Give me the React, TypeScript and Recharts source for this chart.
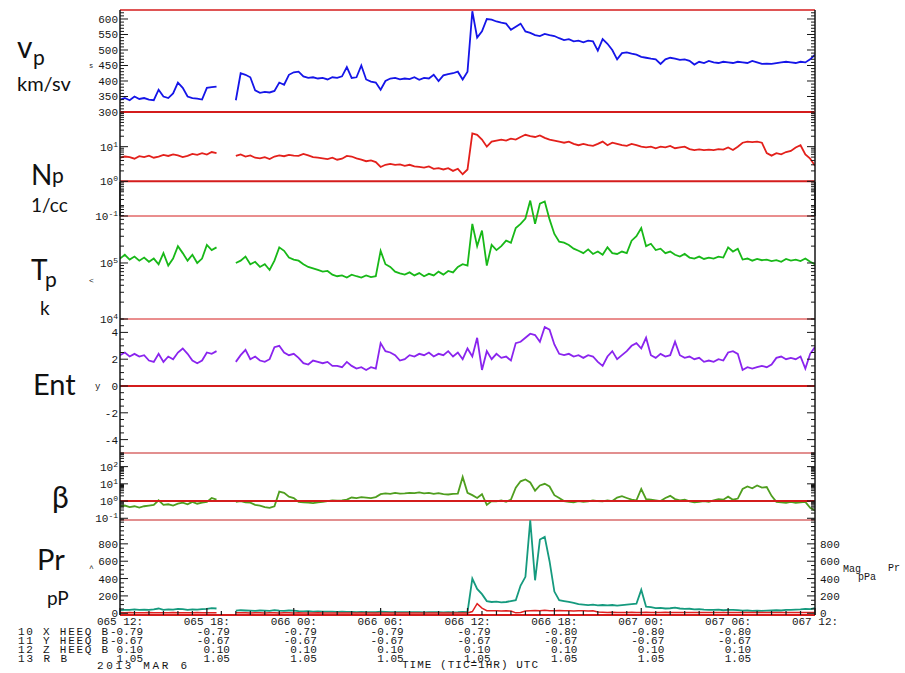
import React from 'react';
import { LineChart, Line, XAxis, YAxis, ReferenceLine } from 'recharts';

// 20-minute samples, 2013 DOY 065 12:00 UT -> DOY 067 12:00 UT (null = data gap)
const STEP_HOURS = 1 / 3;

const vpKms: (number | null)[] = [
  340, 345, 338, 350, 342, 345, 340, 338, 372, 350, 345, 360,
  395, 378, 350, 345, 343, 340, 378, 380, 382, null, null, null,
  338, 425, 420, 412, 370, 362, 365, 363, 368, 395, 388, 420,
  428, 430, 415, 410, 412, 408, 410, 405, 412, 410, 415, 445,
  410, 412, 450, 405, 398, 395, 372, 400, 408, 410, 405, 408,
  406, 412, 404, 410, 408, 420, 400, 418, 422, 425, 430, 405,
  430, 625, 540, 560, 600, 598, 592, 588, 585, 565, 575, 585,
  560, 555, 548, 545, 552, 548, 545, 538, 532, 535, 528, 530,
  525, 530, 528, 498, 535, 520, 500, 470, 490, 492, 488, 485,
  478, 475, 472, 470, 455, 470, 475, 472, 468, 470, 465, 453,
  462, 458, 465, 460, 458, 462, 460, 458, 462, 460, 458, 465,
  460, 455, 456, 455, 458, 460, 462, 460, 458, 462, 460, 470,
  485,
];

const npCc: (number | null)[] = [
  4.8, 5.2, 5.0, 4.5, 5.3, 5.0, 5.5, 4.8, 5.2, 5.8, 5.4, 6.0,
  5.6, 5.0, 5.4, 6.2, 5.8, 6.5, 5.9, 7.0, 6.5, null, null, null,
  5.4, 6.0, 5.2, 5.6, 4.8, 4.6, 5.0, 4.4, 5.2, 5.6, 5.3, 5.8,
  5.5, 5.4, 6.2, 5.6, 5.0, 4.8, 4.6, 4.4, 4.8, 4.2, 4.5, 5.4,
  5.2, 4.6, 4.2, 3.8, 4.0, 3.6, 2.6, 3.0, 3.2, 3.0, 3.1, 2.8,
  3.0, 2.7, 2.6, 2.5, 2.7, 2.3, 2.4, 2.2, 2.4, 2.0, 2.3, 1.6,
  2.2, 24, 22, 16, 10, 14, 15, 16, 15, 17, 16, 19,
  22, 20, 19, 21, 18, 16, 15, 14, 13, 14, 12, 11,
  12, 11, 10.5, 12, 14, 11, 13, 12, 11, 10.5, 12, 11,
  10, 9.5, 10, 9, 10, 9.5, 10.5, 9, 9.5, 10, 8.5, 8,
  8.3, 8, 8.2, 8, 8.5, 8.2, 9.5, 8, 10, 13, 14, 13.5,
  14, 13, 6.5, 5.5, 6.5, 6.0, 7.0, 7.5, 9.5, 11, 6, 4.5,
  2.8,
];

// proton temperature in thousands of kelvin
const tpKiloK: (number | null)[] = [
  120, 140, 115, 130, 110, 125, 105, 120, 95, 150, 90, 120,
  200, 150, 110, 140, 100, 120, 210, 170, 190, null, null, null,
  100, 110, 130, 95, 105, 85, 95, 75, 110, 190, 165, 125,
  115, 110, 95, 85, 80, 75, 70, 72, 62, 58, 60, 55,
  62, 58, 55, 60, 56, 58, 165, 95, 85, 70, 65, 62,
  68, 60, 66, 58, 64, 60, 70, 62, 72, 68, 85, 95,
  90, 500, 200, 380, 90, 210, 170, 200, 250, 230, 420, 500,
  620, 1300, 500, 1150, 1250, 600, 330, 240, 230, 210, 180, 165,
  150, 175, 145, 160, 140, 190, 150, 145, 160, 150, 250, 300,
  420, 200, 220, 170, 180, 150, 160, 140, 130, 145, 125, 120,
  130, 118, 125, 120, 130, 125, 190, 160, 180, 115, 120, 110,
  118, 112, 115, 108, 112, 105, 118, 110, 115, 108, 120, 105,
  95,
];

const entropy: (number | null)[] = [
  2.3, 2.5, 2.2, 2.4, 2.2, 2.3, 1.9, 1.8, 2.4, 1.8, 2.2, 2.0,
  2.5, 2.8, 2.4, 1.9, 1.7, 1.9, 2.5, 2.4, 2.6, null, null, null,
  1.8, 2.3, 2.7, 2.0, 2.2, 1.9, 1.8, 2.0, 2.9, 3.0, 2.5, 2.3,
  2.4, 2.1, 1.7, 1.6, 1.9, 1.8, 1.7, 1.8, 1.5, 1.5, 1.4, 1.8,
  1.5, 1.3, 1.4, 1.2, 1.4, 1.3, 3.2, 2.6, 2.5, 2.3, 1.9, 2.0,
  2.3, 2.2, 2.4, 2.3, 2.5, 2.2, 2.4, 2.3, 2.6, 2.2, 2.5, 2.0,
  2.8, 2.2, 3.6, 1.2, 2.6, 2.0, 2.4, 2.1, 2.2, 1.9, 3.2, 3.3,
  3.6, 3.9, 3.8, 3.3, 4.4, 4.2, 3.1, 2.4, 2.3, 2.4, 2.2, 2.3,
  2.1, 2.3, 2.2, 1.8, 1.5, 2.2, 2.6, 2.0, 2.3, 2.6, 3.0, 3.2,
  2.8, 3.6, 2.3, 2.1, 2.4, 2.2, 2.3, 3.3, 2.3, 2.1, 2.2, 2.0,
  2.1, 1.8, 1.9, 1.8, 2.0, 1.9, 2.5, 2.6, 2.4, 1.2, 1.4, 1.3,
  1.4, 1.5, 1.4, 1.6, 2.1, 2.2, 2.0, 2.1, 2.0, 2.2, 1.3, 2.4,
  2.9,
];

const betaP: (number | null)[] = [
  0.5, 0.55, 0.45, 0.5, 0.42, 0.5, 0.55, 0.6, 1.1, 0.6, 0.65, 0.55,
  0.7, 0.8, 0.65, 0.9, 0.7, 0.8, 0.9, 1.5, 1.2, null, null, null,
  0.9, 1.0, 0.85, 0.8, 0.6, 0.55, 0.45, 0.4, 0.5, 3.5, 3.0, 1.8,
  1.5, 0.9, 0.85, 0.8, 0.75, 0.85, 0.9, 1.0, 1.1, 1.05, 1.1, 1.2,
  1.6, 1.5, 1.7, 1.6, 1.5, 1.7, 2.5, 2.8, 2.6, 3.0, 2.7, 2.8,
  3.0, 2.9, 3.2, 2.8, 3.0, 2.6, 2.9, 2.5, 2.4, 2.6, 2.7, 25,
  3.0, 2.2, 1.5, 2.5, 0.6, 1.0, 0.95, 1.1, 0.9, 1.2, 6, 14,
  18, 12, 4, 8, 10, 7, 2.2, 1.5, 1.0, 0.9, 0.85, 1.0,
  0.9, 0.95, 1.1, 1.0, 0.95, 1.1, 1.0, 1.6, 1.9, 1.5, 1.2, 1.1,
  5, 1.3, 1.2, 1.1, 1.0, 1.5, 2.0, 1.3, 1.1, 1.2, 0.95, 0.85,
  0.9, 1.0, 0.9, 1.1, 1.3, 1.2, 1.8, 1.2, 1.4, 5, 7, 5.5,
  8, 6, 6.5, 2.0, 0.9, 0.85, 0.8, 0.9, 0.8, 0.85, 0.9, 0.4,
  0.28,
];

// total pressure (teal) and magnetic pressure (red), pPa
const prTotal: (number | null)[] = [
  35, 40, 38, 45, 40, 42, 38, 45, 55, 40, 45, 42,
  50, 48, 40, 45, 42, 48, 50, 60, 55, null, null, null,
  30, 35, 32, 30, 28, 32, 30, 28, 35, 30, 28, 32,
  30, 25, 22, 25, 20, 22, 18, 20, 18, 15, 18, 16,
  15, 12, 15, 12, 14, 12, 18, 15, 12, 14, 12, 13,
  12, 14, 12, 11, 13, 12, 12, 10, 12, 11, 12, 15,
  12, 400, 280, 220, 140, 130, 135, 125, 130, 140, 150, 320,
  420, 1070, 380, 850, 880, 600, 250, 150, 140, 130, 120, 105,
  100, 95, 100, 92, 95, 90, 95, 88, 95, 100, 105, 110,
  270, 75, 70, 60, 62, 55, 58, 65, 55, 50, 52, 45,
  48, 42, 40, 38, 42, 35, 38, 40, 35, 30, 32, 28,
  30, 28, 30, 32, 35, 32, 38, 40, 42, 45, 50, 48,
  60,
];

const prMag: (number | null)[] = [
  8, 6, 8, 5, 7, 6, 8, 6, 5, 7, 6, 8,
  6, 7, 5, 6, 8, 6, 7, 5, 6, null, null, null,
  5, 6, 5, 4, 5, 6, 4, 5, 6, 4, 5, 5,
  4, 5, 4, 3, 4, 5, 3, 4, 3, 4, 3, 4,
  3, 4, 3, 3, 4, 3, 2, 3, 2, 3, 2, 3,
  2, 3, 2, 2, 3, 2, 2, 3, 2, 2, 3, 2,
  3, 20, 110, 60, 30, 28, 30, 25, 28, 25, 5, 8,
  25, 30, 32, 30, 35, 28, 30, 32, 28, 30, 25, 28,
  30, 26, 28, 15, 12, 10, 12, 10, 8, 10, 12, 10,
  8, 12, 10, 8, 10, 12, 9, 8, 10, 9, 8, 10,
  9, 8, 10, 8, 9, 10, 8, 9, 8, 10, 9, 8,
  9, 8, 10, 9, 8, 9, 10, 8, 9, 8, 10, 9,
  8,
];

// labels under the 6-hour ticks, with spacecraft position rows
const timeLabels = ['065 12:', '065 18:', '066 00:', '066 06:', '066 12:', '066 18:', '067 00:', '067 06:', '067 12:'];
const heeqX = [-0.79, -0.79, -0.79, -0.79, -0.79, -0.8, -0.8, -0.8];
const heeqY = [-0.67, -0.67, -0.67, -0.67, -0.67, -0.67, -0.67, -0.67];
const heeqZ = [0.1, 0.1, 0.1, 0.1, 0.1, 0.1, 0.1, 0.1];
const radiusB = [1.05, 1.05, 1.05, 1.05, 1.05, 1.05, 1.05, 1.05];
const rowNames = ['10 X HEEQ B', '11 Y HEEQ B', '12 Z HEEQ B', '13 R B'];

const rows = vpKms.map((vp, i) => ({
  hr: i * STEP_HOURS,
  vp,
  np: npCc[i],
  tp: tpKiloK[i] == null ? null : (tpKiloK[i] as number) * 1000,
  ent: entropy[i],
  beta: betaP[i],
  prTotal: prTotal[i],
  prMag: prMag[i],
}));

const W = 905;
const LEFT_W = 120;
const RIGHT_W = 90;
const M0 = { top: 0, right: 0, bottom: 0, left: 0 };
const INK = '#161616';
const RED = '#d41c1c';
const RED_LIGHT = '#d86a6a';
const MONO = '"Liberation Mono", "DejaVu Sans Mono", monospace';
const SANS = 'Lato, "Open Sans", "DejaVu Sans", sans-serif';

const near = (a: number, b: number) =>
  Math.abs(a - b) <= 1e-6 * Math.max(Math.abs(a), Math.abs(b), 1e-6);

const linTicks = (lo: number, hi: number, step: number) => {
  const out: number[] = [];
  for (let v = lo; v <= hi + 1e-9; v += step) out.push(Math.round(v * 1000) / 1000);
  return out;
};

const logTicks = (lo: number, hi: number) => {
  const out: number[] = [];
  for (let d = Math.floor(Math.log10(lo)); d <= Math.ceil(Math.log10(hi)); d++) {
    for (let m = 1; m <= 9; m++) {
      const v = Number((m * Math.pow(10, d)).toPrecision(6));
      if (v >= lo * 0.999999 && v <= hi * 1.000001) out.push(v);
    }
  }
  return out;
};

const hourTicks = linTicks(0, 48, 1);

const pow10 = (v: number) => (
  <>
    10<tspan dy={-4} fontSize={8}>{Math.round(Math.log10(v))}</tspan>
  </>
);

type TickProps = { x: number; y: number; payload: { value: number } };

const leftTick = (majors: number[], fmt: (v: number) => React.ReactNode) => (p: TickProps) => {
  const major = majors.some((m) => near(m, p.payload.value));
  return (
    <g>
      <line x1={p.x} x2={p.x + (major ? 8 : 4)} y1={p.y} y2={p.y} stroke={INK} />
      {major && (
        <text x={p.x - 2} y={p.y + 4} textAnchor="end" fontFamily={MONO} fontSize={11} fill={INK}>
          {fmt(p.payload.value)}
        </text>
      )}
    </g>
  );
};

const rightTick = (majors: number[], fmt?: (v: number) => string) => (p: TickProps) => {
  const major = majors.some((m) => near(m, p.payload.value));
  return (
    <g>
      <line x1={p.x} x2={p.x - (major ? 8 : 4)} y1={p.y} y2={p.y} stroke={INK} />
      {major && fmt && (
        <text x={p.x + 5} y={p.y + 4} textAnchor="start" fontFamily={MONO} fontSize={11} fill={INK}>
          {fmt(p.payload.value)}
        </text>
      )}
    </g>
  );
};

const topTick = (p: TickProps) => {
  const major = p.payload.value % 6 === 0;
  return <line x1={p.x} x2={p.x} y1={p.y} y2={p.y + (major ? 6 : 3)} stroke={INK} strokeWidth={1.2} />;
};

const bottomTick = (p: TickProps) => {
  const h = p.payload.value;
  const major = h % 6 === 0;
  const k = Math.round(h / 6);
  return (
    <g>
      <line x1={p.x} x2={p.x} y1={p.y} y2={p.y - (major ? 7 : 4)} stroke={INK} strokeWidth={1.2} />
      {major && (
        <g fontFamily={MONO} fontSize={11} fill={INK}>
          <text x={p.x} y={p.y + 10} textAnchor="middle">{timeLabels[k]}</text>
          {k < heeqX.length &&
            [heeqX[k], heeqY[k], heeqZ[k], radiusB[k]].map((v, r) => (
              <text key={r} x={p.x + 23} y={p.y + 19.5 + r * 9} textAnchor="end">
                {v.toFixed(2)}
              </text>
            ))}
        </g>
      )}
    </g>
  );
};

const axisCommon = {
  type: 'number' as const,
  interval: 0 as const,
  tickSize: 0,
  tickMargin: 0,
  tickLine: false,
  allowDataOverflow: true,
  axisLine: { stroke: INK, strokeWidth: 1.5 },
};

const HiddenTime = () => (
  <XAxis type="number" dataKey="hr" domain={[0, 48]} hide allowDataOverflow />
);

type PanelSpec = {
  top: number;
  height: number;
  extra?: number;
  domain: [number, number];
  log?: boolean;
  ticks: number[];
  majors: number[];
  fmt: (v: number) => React.ReactNode;
  rightFmt?: (v: number) => string;
  children: React.ReactNode;
  xAxis?: React.ReactNode;
};

function Panel(s: PanelSpec) {
  return (
    <div style={{ position: 'absolute', left: 0, top: s.top, width: W, height: s.height + (s.extra ?? 0) }}>
      <LineChart width={W} height={s.height + (s.extra ?? 0)} data={rows} margin={M0}>
        {s.xAxis ?? HiddenTime()}
        <YAxis
          {...axisCommon}
          yAxisId="l"
          width={LEFT_W}
          scale={s.log ? 'log' : 'linear'}
          domain={s.domain}
          ticks={s.ticks}
          tick={leftTick(s.majors, s.fmt)}
        />
        <YAxis
          {...axisCommon}
          yAxisId="r"
          orientation="right"
          width={RIGHT_W}
          scale={s.log ? 'log' : 'linear'}
          domain={s.domain}
          ticks={s.ticks}
          tick={rightTick(s.majors, s.rightFmt)}
        />
        {s.children}
      </LineChart>
    </div>
  );
}

const series = (key: string, color: string, width = 1.8) => (
  <Line
    key={key}
    yAxisId="l"
    type="linear"
    dataKey={key}
    stroke={color}
    strokeWidth={width}
    dot={false}
    connectNulls={false}
    isAnimationActive={false}
  />
);

export default function App() {
  return (
    <div style={{ position: 'absolute', left: 0, top: 0, width: W, height: 673, background: '#fff', overflow: 'hidden' }}>
      <style>{'.recharts-surface { overflow: visible; }'}</style>

      {/* bulk speed */}
      <Panel
        top={10}
        height={102}
        domain={[300, 629]}
        ticks={linTicks(300, 620, 10)}
        majors={[300, 350, 400, 450, 500, 550, 600]}
        fmt={(v) => String(v)}
        xAxis={
          <XAxis
            type="number"
            dataKey="hr"
            domain={[0, 48]}
            orientation="top"
            height={0}
            ticks={hourTicks}
            interval={0}
            tickSize={0}
            tickMargin={0}
            tickLine={false}
            allowDataOverflow
            axisLine={false}
            tick={topTick}
          />
        }
      >
        <ReferenceLine yAxisId="l" y={629} stroke={RED} strokeWidth={1.5} ifOverflow="visible" />
        {series('vp', '#1515e8')}
      </Panel>

      {/* density */}
      <Panel
        top={112}
        height={104}
        log
        domain={[0.1, 100]}
        ticks={logTicks(0.1, 100)}
        majors={[0.1, 1, 10]}
        fmt={pow10}
      >
        <ReferenceLine yAxisId="l" y={100} stroke={RED} strokeWidth={2} ifOverflow="visible" />
        <ReferenceLine yAxisId="l" y={1} stroke={RED} strokeWidth={2} />
        <ReferenceLine yAxisId="l" y={0.1} stroke={RED} strokeWidth={1} ifOverflow="visible" />
        {series('np', '#e3201b')}
      </Panel>

      {/* temperature */}
      <Panel
        top={182}
        height={137}
        log
        domain={[1e4, 2.79e6]}
        ticks={logTicks(1e4, 2.79e6)}
        majors={[1e4, 1e5]}
        fmt={pow10}
      >
        <ReferenceLine yAxisId="l" y={1e4} stroke={RED} strokeWidth={1} ifOverflow="visible" />
        {series('tp', '#18b818')}
      </Panel>

      {/* entropy */}
      <Panel
        top={319}
        height={134}
        domain={[-5, 5]}
        ticks={linTicks(-5, 5, 0.5)}
        majors={[-4, -2, 0, 2, 4]}
        fmt={(v) => String(v)}
      >
        <ReferenceLine yAxisId="l" y={0} stroke={RED} strokeWidth={2} />
        <ReferenceLine yAxisId="l" y={-5} stroke={RED_LIGHT} strokeWidth={1.5} ifOverflow="visible" />
        {series('ent', '#8a24ee')}
      </Panel>

      {/* plasma beta */}
      <Panel
        top={453}
        height={67}
        log
        domain={[0.0794, 617]}
        ticks={logTicks(0.0794, 617)}
        majors={[0.1, 1, 10, 100]}
        fmt={pow10}
      >
        <ReferenceLine yAxisId="l" y={0.0794} stroke={RED_LIGHT} strokeWidth={1.5} ifOverflow="visible" />
        {series('beta', '#4f9e1f')}
        <ReferenceLine yAxisId="l" y={1} stroke={RED} strokeWidth={2} />
      </Panel>

      {/* pressures + time axis */}
      <Panel
        top={520}
        height={95}
        extra={58}
        domain={[-20, 1075]}
        ticks={linTicks(0, 1050, 50)}
        majors={[0, 200, 400, 600, 800]}
        fmt={(v) => String(v)}
        rightFmt={(v) => String(v)}
        xAxis={
          <XAxis
            type="number"
            dataKey="hr"
            domain={[0, 48]}
            orientation="bottom"
            height={58}
            ticks={hourTicks}
            interval={0}
            tickSize={0}
            tickMargin={0}
            tickLine={false}
            allowDataOverflow
            axisLine={{ stroke: RED, strokeWidth: 2 }}
            tick={bottomTick}
          />
        }
      >
        {series('prTotal', '#159a7e')}
        {series('prMag', '#e02020', 1.5)}
      </Panel>

      <svg width={W} height={673} style={{ position: 'absolute', left: 0, top: 0, pointerEvents: 'none' }}>
        <g fontFamily={SANS} fill="#111">
          <text x={17} y={58} fontSize={30}>v</text>
          <text x={33} y={65} fontSize={21}>p</text>
          <text x={17} y={91} fontSize={20}>km/sv</text>
          <text x={31} y={185} fontSize={28}>N</text>
          <text x={52} y={183} fontSize={21}>p</text>
          <text x={31} y={212} fontSize={19}>1/cc</text>
          <text x={31} y={280} fontSize={28}>T</text>
          <text x={45} y={287} fontSize={21}>p</text>
          <text x={40} y={315} fontSize={19}>k</text>
          <text x={33} y={395} fontSize={29}>Ent</text>
          <text x={52} y={508} fontSize={30}>β</text>
          <text x={37} y={570} fontSize={29}>Pr</text>
          <text x={47} y={605} fontSize={19}>pP</text>
        </g>
        <g fontFamily={MONO} fill={INK} fontSize={11} style={{ whiteSpace: 'pre' }}>
          {rowNames.map((s, r) => (
            <text key={s} x={18} y={634.5 + r * 9} textLength={s.length * 8.2} lengthAdjust="spacing">
              {s}
            </text>
          ))}
          <text x={97} y={669} textLength={90} lengthAdjust="spacing">2013  MAR  6</text>
          <text x={402} y={668} textLength={136} lengthAdjust="spacing">TIME (TIC=1HR) UTC</text>
          <text x={843} y={572} fontSize={10}>Mag</text>
          <text x={888} y={571} fontSize={10}>Pr</text>
          <text x={858} y={580} fontSize={10}>pPa</text>
          <text x={89} y={68} fontSize={7}>s</text>
          <text x={89} y={283} fontSize={8}>&lt;</text>
          <text x={95} y={389} fontSize={9}>y</text>
          <text x={89} y={571} fontSize={8}>^</text>
        </g>
      </svg>
    </div>
  );
}
